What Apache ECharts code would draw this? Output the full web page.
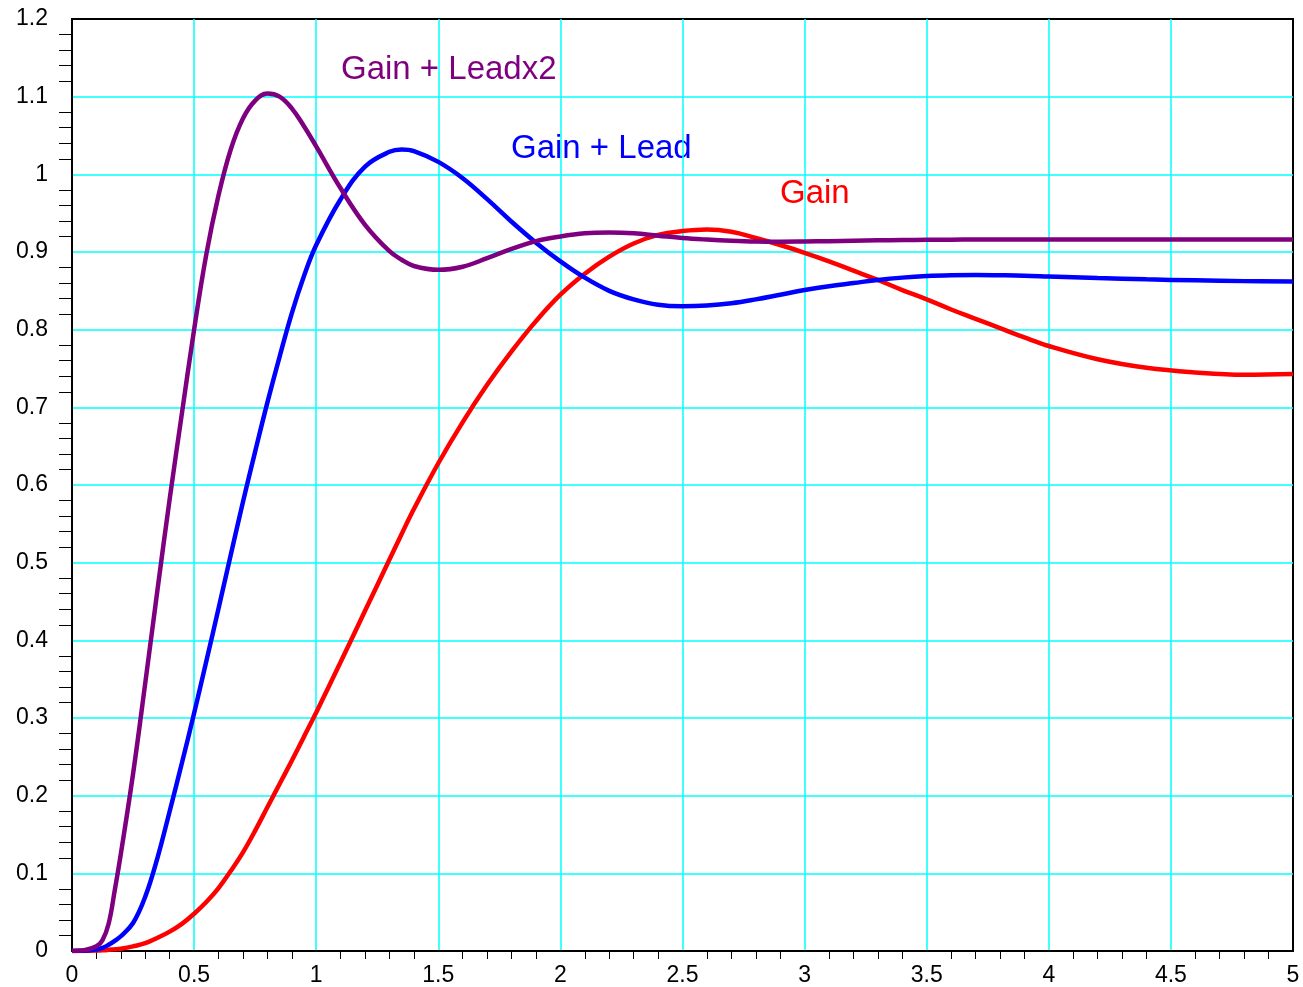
<!DOCTYPE html>
<html>
<head>
<meta charset="utf-8">
<script src="https://cdn.jsdelivr.net/npm/echarts@6/dist/echarts.min.js"></script>
<style>
  html, body { margin: 0; padding: 0; background: #fff; }
  #chart { width: 1303px; height: 987px; }
</style>
</head>
<body>
<div id="chart"></div>
<script>
// Time axis samples
const timeValues = [0, 0.05, 0.1, 0.125, 0.15, 0.175,
  0.2, 0.25, 0.3, 0.35, 0.4, 0.45, 0.5, 0.55, 0.6, 0.65, 0.7, 0.75, 0.8, 0.85, 0.9, 0.95, 1.0,
  1.1, 1.2, 1.3, 1.35, 1.4, 1.5, 1.6, 1.7, 1.8, 1.9, 2.0, 2.1, 2.2, 2.3, 2.4, 2.5, 2.6, 2.7, 2.8, 2.9, 3.0,
  3.1, 3.2, 3.3, 3.4, 3.5, 3.6, 3.7, 3.8, 3.9, 4.0,
  4.2, 4.4, 4.6, 4.8, 5.0];

// Gain (red)
const gainValues = [0, 0.0001, 0.0005, 0.0009, 0.0015, 0.0022,
  0.003, 0.006, 0.010, 0.017, 0.025, 0.035, 0.048, 0.063, 0.081, 0.103, 0.127, 0.155, 0.185, 0.215, 0.245, 0.276, 0.307,
  0.372, 0.438, 0.504, 0.537, 0.569, 0.628, 0.681, 0.729, 0.772, 0.811, 0.845, 0.872, 0.894, 0.911, 0.922, 0.927, 0.929, 0.926, 0.918, 0.909, 0.899,
  0.888, 0.876, 0.864, 0.851, 0.839, 0.826, 0.814, 0.802, 0.790, 0.779,
  0.762, 0.751, 0.745, 0.742, 0.743];

// Gain + Lead (blue)
const gainLeadValues = [0, 0.0002, 0.002, 0.004, 0.008, 0.013,
  0.019, 0.036, 0.070, 0.120, 0.180, 0.242, 0.306, 0.373, 0.441, 0.510, 0.578, 0.643, 0.706, 0.765, 0.821, 0.869, 0.909,
  0.968, 1.010, 1.029, 1.032, 1.030, 1.016, 0.995, 0.968, 0.939, 0.912, 0.888, 0.867, 0.850, 0.839, 0.832, 0.830, 0.831, 0.834, 0.839, 0.845, 0.851,
  0.856, 0.860, 0.864, 0.867, 0.869, 0.870, 0.8703, 0.870, 0.8695, 0.8685,
  0.8665, 0.8648, 0.8635, 0.8625, 0.862];

// Gain + Leadx2 (purple)
const gainLead2Values = [0, 0.001, 0.006, 0.014, 0.035, 0.078,
  0.125, 0.228, 0.345, 0.465, 0.582, 0.692, 0.800, 0.897, 0.973, 1.032, 1.072, 1.095, 1.104, 1.100, 1.085, 1.062, 1.036,
  0.982, 0.935, 0.901, 0.890, 0.882, 0.877, 0.881, 0.892, 0.904, 0.914, 0.920, 0.924, 0.925, 0.924, 0.921, 0.918, 0.916, 0.9145, 0.9135, 0.9132, 0.9135,
  0.914, 0.9145, 0.915, 0.9154, 0.9157, 0.9159, 0.916, 0.916, 0.916, 0.916,
  0.916, 0.916, 0.916, 0.916, 0.916];

const seriesNames = ['Gain', 'Gain + Lead', 'Gain + Leadx2'];
const seriesColors = ['#ff0000', '#0000ff', '#7f007f'];

function pairs(ys) { return timeValues.map((t, i) => [t, ys[i]]); }

const chart = echarts.init(document.getElementById('chart'), null, { renderer: 'canvas' });
const FONT = '"Liberation Sans", Arial, Helvetica, sans-serif';

const option = {
  animation: false,
  backgroundColor: '#fff',
  grid: { left: 72, right: 10, top: 19, bottom: 36, show: true, borderColor: '#000', borderWidth: 2, containLabel: false },
  xAxis: {
    type: 'value', min: 0, max: 5, interval: 0.5,
    axisLine: { show: true, onZero: false, lineStyle: { color: '#000', width: 2 } },
    axisTick: { show: false },
    minorTick: { show: true, splitNumber: 5, length: 8, lineStyle: { color: '#000', width: 1 } },
    splitLine: { show: true, showMinLine: false, showMaxLine: false, lineStyle: { color: '#00ffff', width: 1.5 } },
    axisLabel: { color: '#000', fontSize: 23, fontFamily: FONT, margin: 13 },
  },
  yAxis: {
    type: 'value', min: 0, max: 1.2, interval: 0.1,
    axisLine: { show: true, onZero: false, lineStyle: { color: '#000', width: 2 } },
    axisTick: { show: false },
    minorTick: { show: true, splitNumber: 5, length: 13, lineStyle: { color: '#000', width: 1 } },
    splitLine: { show: true, showMinLine: false, showMaxLine: false, lineStyle: { color: '#00ffff', width: 1.5 } },
    axisLabel: { color: '#000', fontSize: 23, fontFamily: FONT, margin: 24, padding: [3, 0, 0, 0] },
  },
  series: [
    { name: seriesNames[0], type: 'line', data: pairs(gainValues), smooth: 0.4, showSymbol: false, lineStyle: { color: seriesColors[0], width: 4.5 } },
    { name: seriesNames[1], type: 'line', data: pairs(gainLeadValues), smooth: 0.4, showSymbol: false, lineStyle: { color: seriesColors[1], width: 4.5 } },
    { name: seriesNames[2], type: 'line', data: pairs(gainLead2Values), smooth: 0.4, showSymbol: false, lineStyle: { color: seriesColors[2], width: 4.5 } },
  ],
  graphic: [
    { type: 'text', left: 341, top: 53, style: { text: seriesNames[2], fill: seriesColors[2], font: '33px ' + FONT } },
    { type: 'text', left: 511, top: 132, style: { text: seriesNames[1], fill: seriesColors[1], font: '33px ' + FONT } },
    { type: 'text', left: 780, top: 177, style: { text: seriesNames[0], fill: seriesColors[0], font: '33px ' + FONT } },
  ],
};
chart.setOption(option);
</script>
</body>
</html>
